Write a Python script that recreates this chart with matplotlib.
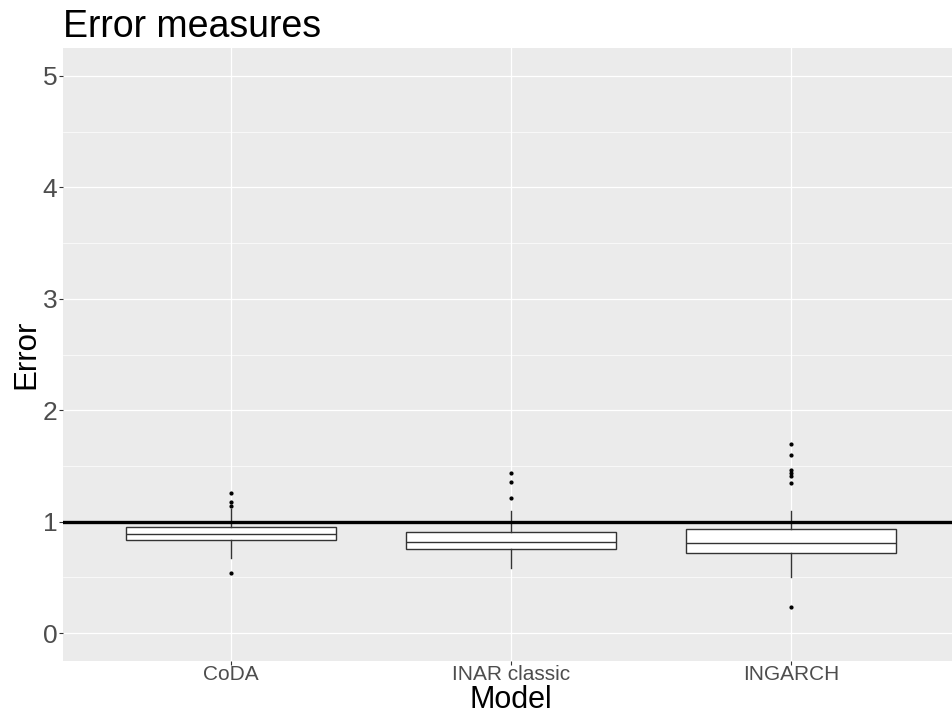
import matplotlib.pyplot as plt
import numpy as np

plt.rcParams['font.family'] = ['Liberation Sans', 'DejaVu Sans']

# box statistics per model
models = ["CoDA", "INAR classic", "INGARCH"]
q1 = [0.840, 0.751, 0.717]
medians = [0.885, 0.819, 0.810]
q3 = [0.948, 0.903, 0.930]
whislo = [0.675, 0.586, 0.505]
whishi = [1.118, 1.100, 1.097]
outliers = [
    [1.253, 1.178, 1.139, 0.541],
    [1.438, 1.354, 1.211],
    [1.695, 1.596, 1.468, 1.438, 1.408, 1.343, 0.236],
]
ref_line = 1.0

stats = []
for i, m in enumerate(models):
    stats.append(dict(label=m, q1=q1[i], med=medians[i], q3=q3[i],
                      whislo=whislo[i], whishi=whishi[i], fliers=outliers[i]))

fig = plt.figure(figsize=(9.52, 7.16), dpi=100)
ax = fig.add_axes([63/952, 55/716, 1 - 63/952, 613/716])
ax.set_facecolor('#EBEBEB')

# grid: minor at halves, major at integers
for y in np.arange(0.5, 5.0, 1.0):
    ax.axhline(y, color='white', lw=0.5, zorder=0)
for y in range(0, 6):
    ax.axhline(y, color='white', lw=0.9, zorder=0)
for x in range(1, 4):
    ax.axvline(x, color='white', lw=0.9, zorder=0)

pos = np.arange(1, len(models) + 1)
ax.bxp(stats, positions=pos, widths=0.75, patch_artist=True, showcaps=False,
       boxprops=dict(facecolor='white', edgecolor='#333333', lw=1.0),
       medianprops=dict(color='#333333', lw=1.0),
       whiskerprops=dict(color='#333333', lw=1.0),
       flierprops=dict(marker='o', markersize=2.0, markerfacecolor='black',
                       markeredgecolor='black'),
       zorder=2)

ax.axhline(ref_line, color='black', lw=2.4, zorder=3)

ax.set_xlim(0.4, 0.4 + (952 - 63) / 280)
ax.set_ylim(-0.25, 5.25)
ax.set_yticks(range(0, 6))
ax.set_xticks(pos)
ax.set_xticklabels(models)
ax.tick_params(axis='y', labelsize=19, colors='#333333', length=3, width=0.8,
               pad=1, labelcolor='#4D4D4D')
ax.tick_params(axis='x', labelsize=15, colors='#333333', length=3, width=0.8,
               pad=0, labelcolor='#4D4D4D')
for s in ax.spines.values():
    s.set_visible(False)

ax.set_ylabel("Error", fontsize=22.5, labelpad=1)
# x title sits centred under the category span
fig.text(511/952, 1 - 708/716, "Model", fontsize=22, ha='center', va='baseline')
fig.text(63/952, 1 - 37/716, "Error measures", fontsize=27, ha='left', va='baseline')

fig.savefig('out.png', dpi=100)
